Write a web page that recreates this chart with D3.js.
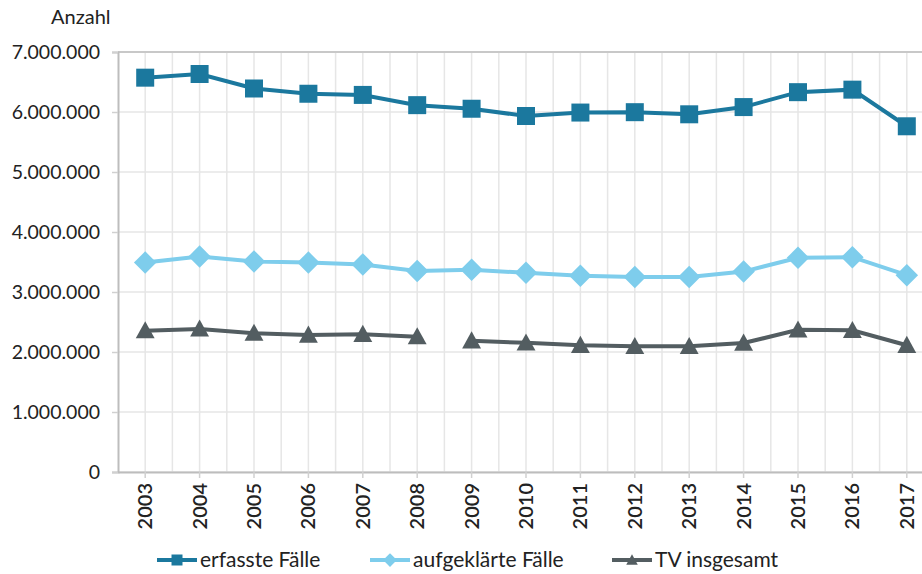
<!DOCTYPE html>
<html>
<head>
<meta charset="utf-8">
<script src="https://cdn.jsdelivr.net/npm/d3@7"></script>
<style>
 body { margin: 0; background: #fff; }
 svg { display: block; font-family: "Lato", "Open Sans", sans-serif; }
</style>
</head>
<body>
<svg width="922" height="574"></svg>
<script>
var years = ["2003","2004","2005","2006","2007","2008","2009","2010","2011","2012","2013","2014","2015","2016","2017"];
var erfasst = [6572135, 6633156, 6391715, 6304223, 6284661, 6114128, 6054330, 5933278, 5990679, 5997040, 5961662, 6082064, 6330649, 6372526, 5761984];
var aufgeklaert = [3490000, 3590000, 3510000, 3490000, 3460000, 3350000, 3370000, 3320000, 3270000, 3250000, 3250000, 3340000, 3570000, 3580000, 3280000];
// Tatverdächtige, Bruch zwischen 2008 und 2009
var tv = [2355161, 2384268, 2313136, 2283127, 2294883, 2255693, 2187217, 2152803, 2112843, 2094160, 2094160, 2149504, 2369036, 2360806, 2112715];
var tvBreak = "2009";
var yTicks = [0, 1000000, 2000000, 3000000, 4000000, 5000000, 6000000, 7000000];

var svg = d3.select("svg");
var mLeft = 118, mTop = 52;
var width = 816, height = 420;

var x = d3.scaleBand().domain(years).range([mLeft, mLeft + width]);
var y = d3.scaleLinear().domain([0, 7000000]).range([mTop + height, mTop]);
var cx = function(d) { return x(d) + x.bandwidth() / 2; };

var fmt = function(d) { return d === 0 ? "0" : d3.format(",")(d).replace(/,/g, "."); };

// grid
var grid = svg.append("g");
grid.selectAll(".hg")
 .data(yTicks)
 .enter().append("line")
 .attr("x1", mLeft).attr("x2", mLeft + width)
 .attr("y1", function(d) { return y(d); })
 .attr("y2", function(d) { return y(d); })
 .attr("stroke", "#e6e6e6").attr("stroke-width", 1.5);

var vlines = [];
years.forEach(function(d) { vlines.push(x(d) + x.bandwidth()); vlines.push(cx(d)); });
grid.selectAll(".vg")
 .data(vlines)
 .enter().append("line")
 .attr("x1", function(d) { return d; }).attr("x2", function(d) { return d; })
 .attr("y1", mTop).attr("y2", mTop + height)
 .attr("stroke", "#e6e6e6").attr("stroke-width", 1.5);

// top border
svg.append("line")
 .attr("x1", mLeft).attr("x2", mLeft + width)
 .attr("y1", mTop).attr("y2", mTop)
 .attr("stroke", "#c8c8c8").attr("stroke-width", 2);

// y axis
var yAxis = svg.append("g")
 .attr("transform", "translate(" + mLeft + ",0)")
 .call(d3.axisLeft(y).tickValues(yTicks).tickFormat(fmt).tickSize(6).tickPadding(12));
yAxis.select(".domain").attr("stroke", "#bdbdbd").attr("stroke-width", 2);
yAxis.selectAll(".tick line").attr("stroke", "#d0d0d0").attr("stroke-width", 1.5);
yAxis.selectAll("text")
 .attr("font-size", "19.5px")
 .attr("fill", "#222")
 .attr("font-family", "Lato, sans-serif");

// x axis
var xAxis = svg.append("g")
 .attr("transform", "translate(0," + (mTop + height) + ")")
 .call(d3.axisBottom(x).tickSize(6).tickSizeOuter(0));
xAxis.select(".domain").attr("stroke", "#bdbdbd").attr("stroke-width", 2);
xAxis.selectAll(".tick line").attr("stroke", "#d0d0d0").attr("stroke-width", 1.5);
xAxis.selectAll("text")
 .attr("font-size", "20px")
 .attr("font-weight", "600")
 .attr("fill", "#222")
 .attr("font-family", "Lato, sans-serif")
 .attr("transform", "rotate(-90)")
 .attr("text-anchor", "end")
 .attr("x", -11)
 .attr("y", 0)
 .attr("dy", "0.35em");

svg.append("text")
 .attr("x", 51).attr("y", 24)
 .attr("font-size", "20px")
 .attr("fill", "#222")
 .text("Anzahl");

var series = [
 { name: "erfasste Fälle", values: erfasst, color: "#1b789e", shape: "square" },
 { name: "aufgeklärte Fälle", values: aufgeklaert, color: "#7ecdec", shape: "diamond" },
 { name: "TV insgesamt", values: tv, color: "#535d61", shape: "triangle" }
];

function markerPath(shape, s) {
 if (shape === "square") return "M" + (-s) + "," + (-s) + "H" + s + "V" + s + "H" + (-s) + "Z";
 if (shape === "diamond") return "M0," + (-s * 1.25) + "L" + (s * 1.25) + ",0L0," + (s * 1.25) + "L" + (-s * 1.25) + ",0Z";
 return "M0," + (-s * 1.05) + "L" + (s * 1.05) + "," + (s * 0.85) + "L" + (-s * 1.05) + "," + (s * 0.85) + "Z";
}

series.forEach(function(s) {
 var pts = years.map(function(yr, i) { return { year: yr, value: s.values[i] }; });
 var line = d3.line()
  .x(function(d) { return cx(d.year); })
  .y(function(d) { return y(d.value); });
 var segs = [pts];
 if (s.shape === "triangle") {
  var k = years.indexOf(tvBreak);
  segs = [pts.slice(0, k), pts.slice(k)];
 }
 segs.forEach(function(seg) {
  svg.append("path")
   .datum(seg)
   .attr("d", line)
   .attr("fill", "none")
   .attr("stroke", s.color)
   .attr("stroke-width", 4);
 });
 svg.selectAll(".m-" + s.shape)
  .data(pts)
  .enter().append("path")
  .attr("transform", function(d) { return "translate(" + cx(d.year) + "," + y(d.value) + ")"; })
  .attr("d", markerPath(s.shape, 9))
  .attr("fill", s.color);
});

// legend
var legX = [157, 370, 612];
var leg = svg.append("g").attr("transform", "translate(0,560)");
series.forEach(function(s, i) {
 var g = leg.append("g").attr("transform", "translate(" + legX[i] + ",0)");
 g.append("line").attr("x1", 0).attr("x2", 40).attr("y1", 0).attr("y2", 0)
  .attr("stroke", s.color).attr("stroke-width", 4);
 g.append("path").attr("transform", "translate(20,0)")
  .attr("d", markerPath(s.shape, 5.5)).attr("fill", s.color);
 g.append("text").attr("x", 43).attr("y", 0).attr("dy", "0.35em")
  .attr("font-size", "21px").attr("fill", "#222")
  .text(s.name);
});
</script>
</body>
</html>
